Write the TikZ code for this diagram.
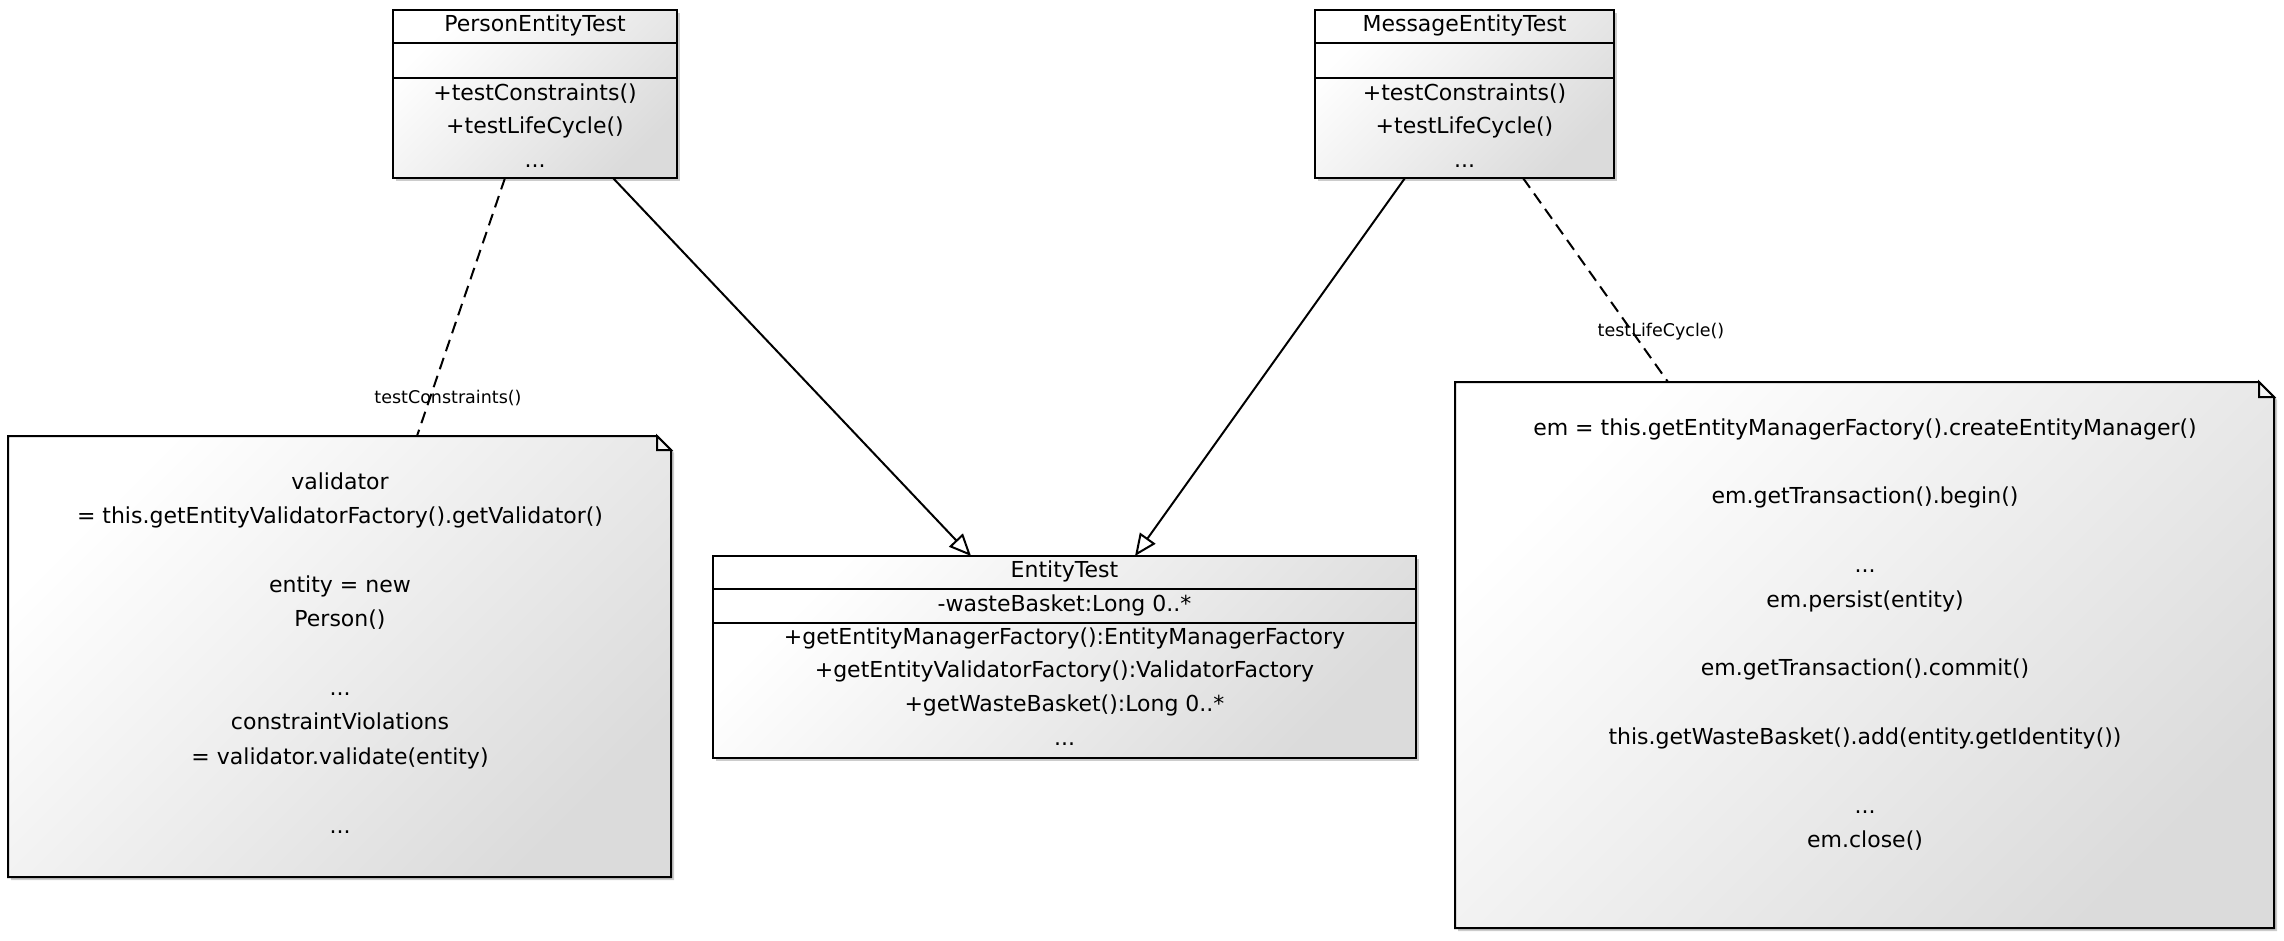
\documentclass[tikz,border=0pt]{standalone}
\usepackage{fontspec}
\setmainfont{DejaVu Sans}
\usetikzlibrary{arrows.meta,shadows,calc}
\begin{document}
\begin{tikzpicture}[x=1pt,y=-1pt,
  shade/.style={top color=white, bottom color=black!14, shading angle=45},
  shadowed/.style={drop shadow={shadow xshift=3pt, shadow yshift=-3pt, opacity=0.2, fill=black}},
  box/.style={draw=black, line width=2pt, inner sep=0pt, outer sep=0pt, anchor=north west, shade, shadowed},
  area/.style={inner sep=0pt, outer sep=0pt, anchor=north west},
  notebody/.style={draw=black, line width=2pt, line join=miter, shade, shadowed},
  ear/.style={draw=black, line width=2pt, line join=miter, fill=white!96!black},
  txt/.style={anchor=base, inner sep=0pt, font=\fontsize{22}{26}\selectfont},
  lbl/.style={anchor=center, inner sep=0pt, font=\fontsize{17.5}{20}\selectfont},
  sep/.style={line width=2pt},
  gen/.style={line width=2pt, -{Triangle[open, length=22pt, width=19pt, line width=2pt]}},
  dep/.style={line width=2pt, dash pattern=on 12pt off 7pt}
]
\useasboundingbox (0,0) rectangle (2284,940);
\fill[white] (0,0) rectangle (2284,940);

% ---------- PersonEntityTest ----------
\node[box, minimum width=284pt, minimum height=168pt] (pet) at (393,10) {};
\draw[sep] (pet.west |- 0,43) -- (pet.east |- 0,43);
\draw[sep] (pet.west |- 0,78) -- (pet.east |- 0,78);
\node[txt] (pett) at (535,31) {PersonEntityTest};
\node[txt] (pet1) at (535,100) {+testConstraints()};
\node[txt] (pet2) at (535,133.5) {+testLifeCycle()};
\node[txt] (pet3) at (535,167) {...};

% ---------- MessageEntityTest ----------
\node[box, minimum width=299pt, minimum height=168pt] (met) at (1315,10) {};
\draw[sep] (met.west |- 0,43) -- (met.east |- 0,43);
\draw[sep] (met.west |- 0,78) -- (met.east |- 0,78);
\node[txt] (mett) at (1464.5,31) {MessageEntityTest};
\node[txt] (met1) at (1464.5,100) {+testConstraints()};
\node[txt] (met2) at (1464.5,133.5) {+testLifeCycle()};
\node[txt] (met3) at (1464.5,167) {...};

% ---------- EntityTest ----------
\node[box, minimum width=703pt, minimum height=202pt] (et) at (713,556) {};
\draw[sep] (et.west |- 0,589) -- (et.east |- 0,589);
\draw[sep] (et.west |- 0,623) -- (et.east |- 0,623);
\node[txt] (ett) at (1064.5,577) {EntityTest};
\node[txt] (eta) at (1064.5,611) {-wasteBasket:Long 0..*};
\node[txt] (et1) at (1064.5,644) {+getEntityManagerFactory():EntityManagerFactory};
\node[txt] (et2) at (1064.5,677.7) {+getEntityValidatorFactory():ValidatorFactory};
\node[txt] (et3) at (1064.5,711.4) {+getWasteBasket():Long 0..*};
\node[txt] (et4) at (1064.5,745) {...};

% ---------- left note ----------
\node[area, minimum width=663pt, minimum height=441pt] (lnote) at (8,436) {};
\path[notebody] (lnote.north west) -- ([xshift=-14pt]lnote.north east) -- ([yshift=-14pt]lnote.north east) -- (lnote.south east) -- (lnote.south west) -- cycle;
\draw[ear] ([xshift=-14pt]lnote.north east) -- ([xshift=-14pt,yshift=-14pt]lnote.north east) -- ([yshift=-14pt]lnote.north east) -- cycle;
\node[txt] (ln1) at (340,489) {validator};
\node[txt] (ln2) at (340,523.4) {= this.getEntityValidatorFactory().getValidator()};
\node[txt] (ln3) at (340,592.2) {entity = new};
\node[txt] (ln4) at (340,626.6) {Person()};
\node[txt] (ln5) at (340,695.4) {...};
\node[txt] (ln6) at (340,729.8) {constraintViolations};
\node[txt] (ln7) at (340,764.2) {= validator.validate(entity)};
\node[txt] (ln8) at (340,833) {...};

% ---------- right note ----------
\node[area, minimum width=819pt, minimum height=546pt] (rnote) at (1455,382) {};
\path[notebody] (rnote.north west) -- ([xshift=-15pt]rnote.north east) -- ([yshift=-15pt]rnote.north east) -- (rnote.south east) -- (rnote.south west) -- cycle;
\draw[ear] ([xshift=-15pt]rnote.north east) -- ([xshift=-15pt,yshift=-15pt]rnote.north east) -- ([yshift=-15pt]rnote.north east) -- cycle;
\node[txt] (rn1) at (1865,435) {em = this.getEntityManagerFactory().createEntityManager()};
\node[txt] (rn2) at (1865,503.8) {em.getTransaction().begin()};
\node[txt] (rn3) at (1865,572.6) {...};
\node[txt] (rn4) at (1865,607) {em.persist(entity)};
\node[txt] (rn5) at (1865,675.8) {em.getTransaction().commit()};
\node[txt] (rn6) at (1865,744.6) {this.getWasteBasket().add(entity.getIdentity())};
\node[txt] (rn7) at (1865,813.4) {...};
\node[txt] (rn8) at (1865,847.8) {em.close()};

% ---------- connectors ----------
\draw[dep] ([xshift=112pt]pet.south west) -- ([xshift=409pt]lnote.north west);
\draw[gen] ([xshift=220pt]pet.south west) -- ([xshift=258pt]et.north west);
\draw[gen] ([xshift=90pt]met.south west) -- ([xshift=422pt]et.north west);
\draw[dep] ([xshift=208pt]met.south west) -- ([xshift=213pt]rnote.north west);

\node[lbl] (lc) at (448,398) {testConstraints()};
\node[lbl] (ll) at (1661,332) {testLifeCycle()};
\end{tikzpicture}
\end{document}
